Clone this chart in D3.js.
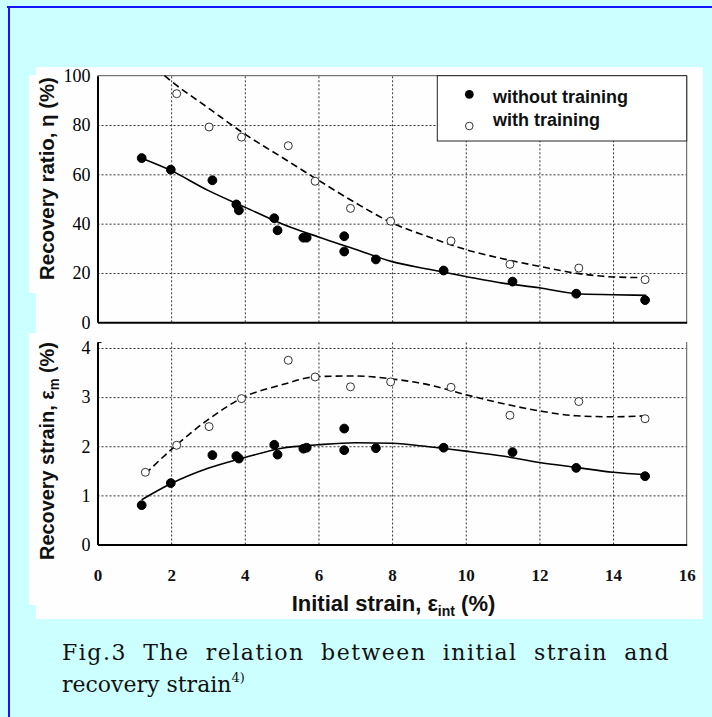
<!DOCTYPE html>
<html>
<head>
<meta charset="utf-8"/>
<script src="https://cdn.jsdelivr.net/npm/d3@7"></script>
<title>Fig.3 initial strain vs recovery strain</title>
<style>
body { margin: 0; background: #ccffff; }
svg { display: block; }
</style>
</head>
<body>
<script>
// ---- data ----
var xTicks = [0, 2, 4, 6, 8, 10, 12, 14, 16];
var ratioTicks = [0, 20, 40, 60, 80, 100];
var strainTicks = [0, 1, 2, 3, 4];

// measured points, without training (same initial strains in both panels)
var xWithout = [1.2, 1.99, 3.12, 3.77, 3.84, 4.8, 4.89, 5.59, 5.68, 6.7, 6.7, 7.56, 9.4, 11.27, 13.0, 14.87];
var ratioWithout = [66.6, 61.9, 57.6, 47.8, 45.4, 42.2, 37.3, 34.3, 34.3, 34.9, 28.7, 25.5, 21.0, 16.5, 11.6, 9.0];
var strainWithout = [0.80, 1.25, 1.82, 1.80, 1.75, 2.03, 1.83, 1.95, 1.97, 2.36, 1.92, 1.96, 1.97, 1.88, 1.56, 1.39];

// measured points, with training
var xRatioWith = [2.15, 3.03, 3.91, 5.18, 5.91, 6.87, 7.96, 9.6, 11.2, 13.07, 14.87];
var ratioWith = [92.7, 79.2, 75.1, 71.6, 57.2, 46.2, 41.0, 33.0, 23.5, 22.0, 17.3];
var xStrainWith = [1.3, 2.15, 3.03, 3.91, 5.18, 5.91, 6.87, 7.96, 9.6, 11.2, 13.07, 14.87];
var strainWith = [1.47, 2.02, 2.40, 2.97, 3.75, 3.41, 3.21, 3.31, 3.20, 2.63, 2.91, 2.56];

// fitted curves
var fitRatioWithoutX = [1.2, 2, 3, 4, 5, 6, 7, 8, 9, 10, 11, 12, 13, 14, 14.9];
var fitRatioWithout = [66.5, 61.5, 53.5, 46.7, 40.0, 34.6, 29.6, 24.6, 21.5, 18.6, 15.9, 14.0, 11.6, 11.2, 10.9];
var fitRatioWithX = [1.82, 2, 3, 4, 5, 6, 7, 8, 9, 10, 11, 12, 13, 14, 14.9];
var fitRatioWith = [100, 97.8, 87.0, 76.3, 67.0, 57.6, 48.5, 40.3, 34.6, 29.5, 25.8, 22.7, 19.9, 18.4, 18.1];
var fitStrainWithoutX = [1.2, 2, 3, 4, 5, 6, 7, 8, 9, 10, 11, 12, 13, 14, 14.9];
var fitStrainWithout = [0.91, 1.24, 1.55, 1.77, 1.96, 2.03, 2.07, 2.06, 1.99, 1.90, 1.80, 1.67, 1.57, 1.47, 1.42];
var fitStrainWithX = [1.3, 2, 3, 4, 5, 6, 7, 8, 9, 10, 11, 12, 13, 14, 14.9];
var fitStrainWith = [1.44, 1.93, 2.54, 3.01, 3.25, 3.42, 3.43, 3.37, 3.25, 3.05, 2.87, 2.72, 2.62, 2.60, 2.62];

var legendLabels = ["without training", "with training"];
var captionLine1 = "Fig.3 The relation between initial strain and";

// ---- layout ----
var svg = d3.select("body").append("svg").attr("width", 712).attr("height", 717);

// cyan page with blue frame
svg.append("rect").attr("width", 712).attr("height", 717).attr("fill", "#ccffff");
svg.append("rect").attr("x", 7).attr("y", 6).attr("width", 705).attr("height", 2).attr("fill", "#1414ff");
svg.append("rect").attr("x", 8).attr("y", 6).attr("width", 2).attr("height", 711).attr("fill", "#1414ff");

// white panel of the pasted figure
svg.append("rect").attr("x", 36).attr("y", 67).attr("width", 667).attr("height", 552).attr("fill", "#fefefe");
svg.append("rect").attr("x", 29).attr("y", 75).attr("width", 8).attr("height", 218).attr("fill", "#fefefe");
svg.append("rect").attr("x", 29).attr("y", 333).attr("width", 8).attr("height", 272).attr("fill", "#fefefe");

var x = d3.scaleLinear().domain([0, 16]).range([97.5, 686.7]);
var yR = d3.scaleLinear().domain([0, 100]).range([322.3, 75.7]);
var yS = d3.scaleLinear().domain([0, 4]).range([544.5, 348]);
var sTop = 4.12; // top of the lower frame

function grid(g, yScale, yVals, yTop, yBot) {
  // vertical dotted lines
  g.append("g").attr("transform", "translate(0," + yBot + ")")
    .call(d3.axisBottom(x).tickValues(xTicks.slice(1, -1)).tickSize(-(yBot - yTop)).tickFormat(""))
    .call(function(a) { a.select(".domain").remove(); })
    .selectAll("line").attr("stroke", "#333").attr("stroke-dasharray", "2,2");
  // horizontal dotted lines
  g.append("g").attr("transform", "translate(" + x(0) + ",0)")
    .call(d3.axisLeft(yScale).tickValues(yVals).tickSize(-(x(16) - x(0))).tickFormat(""))
    .call(function(a) { a.select(".domain").remove(); })
    .selectAll("line").attr("stroke", "#333").attr("stroke-dasharray", "2,2");
}

function yAxis(g, yScale, vals) {
  g.append("g").attr("transform", "translate(" + x(0) + ",0)")
    .call(d3.axisLeft(yScale).tickValues(vals).tickSize(0).tickPadding(7).tickFormat(d3.format("d")))
    .call(function(a) {
      a.select(".domain").attr("stroke", "#000").attr("stroke-width", 2);
      a.selectAll("text").attr("font-family", "'Liberation Serif', 'Times New Roman', serif")
        .attr("font-size", 18).attr("fill", "#000");
    });
}

function xAxisLine(g, yPix, withLabels) {
  var ax = g.append("g").attr("transform", "translate(0," + yPix + ")")
    .call(d3.axisBottom(x).tickValues(withLabels ? xTicks : []).tickSize(0).tickPadding(24));
  ax.select(".domain").attr("stroke", "#000").attr("stroke-width", 2);
  ax.selectAll("text").attr("font-family", "'Liberation Serif', 'Times New Roman', serif")
    .attr("font-weight", "bold").attr("font-size", 17).attr("fill", "#111");
}

function curve(g, xs, ys, yScale, dash) {
  var line = d3.line().x(function(d) { return x(d[0]); }).y(function(d) { return yScale(d[1]); })
    .curve(d3.curveMonotoneX);
  g.append("path").datum(d3.zip(xs, ys)).attr("d", line)
    .attr("fill", "none").attr("stroke", "#000").attr("stroke-width", 1.6)
    .attr("stroke-dasharray", dash ? "7,4" : null);
}

function dots(g, xs, ys, yScale, filled) {
  g.selectAll(null).data(d3.zip(xs, ys)).enter().append("circle")
    .attr("cx", function(d) { return x(d[0]); })
    .attr("cy", function(d) { return yScale(d[1]); })
    .attr("r", filled ? 4.4 : 4)
    .attr("fill", filled ? "#000" : "#fff")
    .attr("stroke", filled ? "#000" : "#333").attr("stroke-width", 1);
}

// ---- upper panel: recovery ratio ----
var topG = svg.append("g");
grid(topG, yR, [20, 40, 60, 80], yR(100), yR(0));
// frame top/right (grey)
topG.append("line").attr("x1", x(0)).attr("x2", x(16)).attr("y1", yR(100)).attr("y2", yR(100)).attr("stroke", "#555");
topG.append("line").attr("x1", x(16)).attr("x2", x(16)).attr("y1", yR(100)).attr("y2", yR(0)).attr("stroke", "#555");

// legend box
var lg = topG.append("g");
lg.append("rect").attr("x", 437.3).attr("y", yR(100)).attr("width", x(16) - 437.3).attr("height", 65.3)
  .attr("fill", "#fff").attr("stroke", "#222").attr("stroke-width", 1);
lg.append("circle").attr("cx", 469.3).attr("cy", 94.3).attr("r", 4.4).attr("fill", "#000");
lg.append("circle").attr("cx", 469.3).attr("cy", 126).attr("r", 3.8).attr("fill", "#fff").attr("stroke", "#333");
lg.selectAll("text").data(legendLabels).enter().append("text")
  .attr("x", 493).attr("y", function(d, i) { return i ? 125.7 : 103.3; })
  .attr("font-family", "'Liberation Sans', Arial, sans-serif").attr("font-weight", "bold")
  .attr("font-size", 18).attr("fill", "#111").text(function(d) { return d; });

curve(topG, fitRatioWithoutX, fitRatioWithout, yR, false);
curve(topG, fitRatioWithX, fitRatioWith, yR, true);
dots(topG, xWithout, ratioWithout, yR, true);
dots(topG, xRatioWith, ratioWith, yR, false);
yAxis(topG, yR, ratioTicks);
xAxisLine(topG, yR(0), false);

// ---- lower panel: recovery strain ----
var botG = svg.append("g");
grid(botG, yS, [1, 2, 3, 4], yS(sTop), yS(0));
botG.append("line").attr("x1", x(16)).attr("x2", x(16)).attr("y1", yS(sTop)).attr("y2", yS(0)).attr("stroke", "#555");
curve(botG, fitStrainWithoutX, fitStrainWithout, yS, false);
curve(botG, fitStrainWithX, fitStrainWith, yS, true);
dots(botG, xWithout, strainWithout, yS, true);
dots(botG, xStrainWith, strainWith, yS, false);
var ysAx = d3.scaleLinear().domain([0, sTop]).range([yS(0), yS(sTop)]);
yAxis(botG, ysAx, strainTicks);
botG.append("line").attr("x1", x(0)).attr("x2", x(0) + 4).attr("y1", yS(sTop) + 0.5).attr("y2", yS(sTop) + 0.5).attr("stroke", "#000");
xAxisLine(botG, yS(0), true);

// ---- axis titles ----
var sans = "'Liberation Sans', Arial, sans-serif";
function yTitle(main, sub, rest, cx, cy, len) {
  var t = svg.append("text").attr("font-family", sans).attr("font-weight", "bold")
    .attr("font-size", 21).attr("fill", "#111").attr("text-anchor", "middle");
  t.append("tspan").text(main);
  if (sub) t.append("tspan").attr("font-size", 14).attr("dy", 5).text(sub);
  t.append("tspan").attr("dy", sub ? -5 : 0).text(rest);
  var w = t.node().getComputedTextLength();
  t.attr("transform", "translate(" + cx + "," + cy + ") rotate(-90) scale(" + (len / w) + ",1)");
}
yTitle("Recovery ratio, \u03b7", "", " (%)", 54, 178.5, 203);
yTitle("Recovery strain, \u03b5", "m", " (%)", 54, 451, 218);

var xt = svg.append("text").attr("x", 393.5).attr("y", 610.7).attr("text-anchor", "middle")
  .attr("font-family", sans).attr("font-weight", "bold").attr("font-size", 22).attr("fill", "#111");
xt.append("tspan").text("Initial strain, \u03b5");
xt.append("tspan").attr("font-size", 14).attr("dy", 5).text("int");
xt.append("tspan").attr("dy", -5).text(" (%)");

// ---- caption: first line justified word by word, slightly letter-spaced ----
var serif = "'DejaVu Serif', serif";
var cap = svg.append("g").attr("font-family", serif).attr("font-size", 22).attr("fill", "#111");
var words = captionLine1.split(" ");
var wEls = cap.selectAll("text.w").data(words).enter().append("text").attr("class", "w")
  .attr("y", 660).attr("letter-spacing", 1.5).text(function(d) { return d; });
var widths = wEls.nodes().map(function(n) { return n.getBBox().width; });
var gap = (670 - 62 - d3.sum(widths)) / (words.length - 1);
var cx0 = 62;
wEls.attr("x", function(d, i) { var p = cx0; cx0 += widths[i] + gap; return p; });
var l2 = cap.append("text").attr("x", 62).attr("y", 692);
l2.append("tspan").text("recovery strain");
l2.append("tspan").attr("font-size", 13).attr("dy", -10).text("4)");
</script>
</body>
</html>
